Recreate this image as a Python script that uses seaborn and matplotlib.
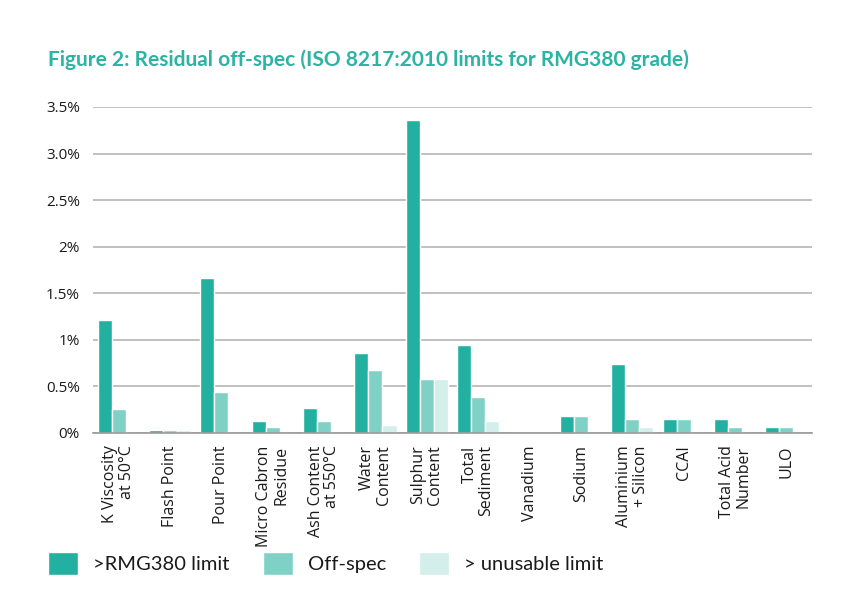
import matplotlib
matplotlib.use("Agg")
import matplotlib.pyplot as plt
import seaborn as sns
import pandas as pd
from matplotlib.ticker import FixedLocator, FixedFormatter

categories = ["K Viscosity\nat 50°C", "Flash Point", "Pour Point", "Micro Cabron\nResidue",
              "Ash Content\nat 550°C", "Water\nContent", "Sulphur\nContent", "Total\nSediment",
              "Vanadium", "Sodium", "Aluminium\n+ Silicon", "CCAI", "Total Acid\nNumber", "ULO"]
series_names = [">RMG380 limit", "Off-spec", "> unusable limit"]
rmg380_limit = [1.21, 0.03, 1.66, 0.13, 0.27, 0.86, 3.36, 0.95, 0.0, 0.18, 0.74, 0.15, 0.15, 0.065]
off_spec =     [0.26, 0.03, 0.44, 0.065, 0.13, 0.68, 0.58, 0.39, 0.0, 0.18, 0.15, 0.15, 0.065, 0.065]
unusable =     [0.0, 0.03, 0.0, 0.0, 0.0, 0.085, 0.58, 0.13, 0.0, 0.0, 0.065, 0.0, 0.0, 0.0]
y_ticks = [0, 0.5, 1, 1.5, 2, 2.5, 3.0, 3.5]
y_tick_labels = ["0%", "0.5%", "1%", "1.5%", "2%", "2.5%", "3.0%", "3.5%"]

colors = ["#22b1a1", "#7fd1c6", "#d3eeeb"]
title_color = "#2db3a4"
text_color = "#1a1a1a"

rows = []
for name, vals in zip(series_names, [rmg380_limit, off_spec, unusable]):
    for c, v in zip(categories, vals):
        rows.append({"category": c, "series": name, "value": v})
df = pd.DataFrame(rows)

sns.set_theme(style="white")
plt.rcParams["font.family"] = ["Open Sans", "DejaVu Sans"]

fig = plt.figure(figsize=(8.58, 5.98), dpi=100)
ax = fig.add_axes([93 / 858, 1 - 433 / 598, (812 - 93) / 858, (433 - 107) / 598])

sns.barplot(data=df, x="category", y="value", hue="series", order=categories,
            hue_order=series_names, palette=colors, width=0.82, saturation=1,
            errorbar=None, ax=ax, legend=True)

ax.set_ylim(0, 3.5)
ax.set_xlim(-0.5, len(categories) - 0.5)
ax.yaxis.set_major_locator(FixedLocator(y_ticks))
ax.yaxis.set_major_formatter(FixedFormatter(y_tick_labels))
ax.grid(axis="y", color="#b5b5b5", linewidth=1.2)
ax.set_axisbelow(True)
for s in ["top", "right", "left"]:
    ax.spines[s].set_visible(False)
ax.spines["bottom"].set_color("#999999")
ax.spines["bottom"].set_linewidth(1.2)
ax.set_xlabel("")
ax.set_ylabel("")
ax.tick_params(axis="y", length=0, pad=9.5, labelsize=11, labelcolor=text_color)
ax.tick_params(axis="x", length=0, pad=9, labelsize=11.5, labelcolor=text_color)
for lbl in ax.get_xticklabels():
    lbl.set_rotation(90)
    lbl.set_multialignment("right")
    lbl.set_va("top")
    lbl.set_ha("center")
    lbl.set_linespacing(1.05)

handles, labels = ax.get_legend_handles_labels()
ax.get_legend().remove()
fig.legend(handles, labels, loc="center left", bbox_to_anchor=(48 / 858, 1 - 563.5 / 598),
           ncol=3, frameon=False, borderpad=0, borderaxespad=0,
           handlelength=1.49, handleheight=1.44, handletextpad=0.75, columnspacing=1.64,
           labelcolor=text_color, prop={"family": ["Lato", "DejaVu Sans"], "size": 14.5})

fig.text(48 / 858, 1 - 60 / 598, "Figure 2: Residual off-spec (ISO 8217:2010 limits for RMG380 grade)",
         color=title_color, fontsize=15, fontweight="bold", va="center", ha="left",
         family=["Lato", "DejaVu Sans"])

fig.savefig("out.png", dpi=100, facecolor="white")
